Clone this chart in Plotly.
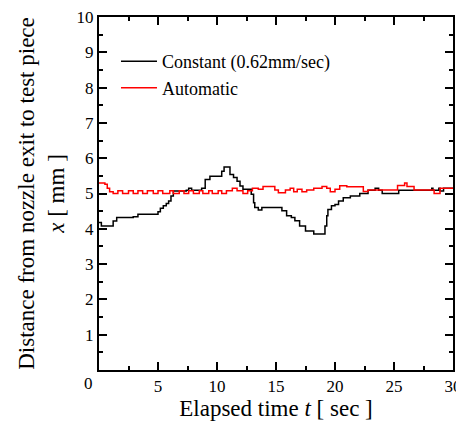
import plotly.graph_objects as go

# Constant feed (0.62 mm/sec) - step points (time s, distance mm)
t_const = [0.0, 0.2, 1.1, 1.2, 1.5, 2.9, 3.3, 4.75, 5.0, 5.2, 5.45, 5.7, 5.9, 6.1, 6.3,
           7.4, 7.6, 7.85, 8.7, 9.0, 9.4, 10.0, 10.4, 10.6, 10.96, 11.1, 11.4, 11.7,
           11.95, 12.2, 12.65, 12.9, 13.1, 13.2, 13.5, 13.8, 15.3, 15.5, 15.9, 16.3,
           16.6, 17.0, 17.5, 18.2, 19.05, 19.15, 19.3, 19.4, 19.7, 20.0, 20.3, 20.7,
           21.3, 22.1, 22.8, 23.4, 23.7, 24.0, 25.4, 28.2, 28.3, 28.8, 28.9, 29.2, 30.0]
x_const = [4.18, 4.08, 4.08, 4.22, 4.32, 4.34, 4.41, 4.41, 4.48, 4.58, 4.65, 4.72, 4.79, 4.93, 5.07,
           5.09, 5.15, 5.09, 5.15, 5.4, 5.49, 5.49, 5.63, 5.75, 5.75, 5.54, 5.45, 5.35,
           5.21, 5.12, 5.12, 4.98, 4.74, 4.6, 4.53, 4.6, 4.6, 4.51, 4.37, 4.32,
           4.23, 4.08, 3.94, 3.85, 3.85, 4.08, 4.37, 4.55, 4.65, 4.69, 4.79, 4.88,
           4.93, 5.0, 5.09, 5.15, 5.09, 5.0, 5.09, 5.15, 5.09, 5.15, 5.07, 5.15, 5.15]

# Automatic control - step points
t_auto = [0.0, 0.5, 0.7, 0.9, 1.2, 1.6, 2.0, 2.5, 2.9, 3.3, 3.7, 4.1, 4.6, 5.0, 5.4,
          6.0, 6.3, 6.8, 7.2, 7.6, 8.0, 8.5, 8.8, 9.3, 9.6, 10.1, 10.4, 10.8, 11.3,
          11.7, 12.2, 12.6, 13.0, 13.5, 13.9, 14.9, 15.2, 15.8, 16.2, 16.5, 16.8,
          17.2, 17.6, 18.2, 18.9, 19.3, 19.6, 20.0, 20.4, 21.0, 22.4, 22.8, 23.5,
          25.3, 25.9, 26.1, 26.7, 27.5, 28.4, 28.9, 30.0]
x_auto = [5.30, 5.26, 5.15, 5.05, 5.0, 5.08, 5.0, 5.08, 5.0, 5.08, 5.0, 5.08, 5.0, 5.08, 5.0,
          5.08, 5.0, 5.08, 5.0, 5.08, 5.0, 5.08, 5.0, 5.08, 5.0, 5.08, 5.0, 5.08, 5.15,
          5.08, 5.0, 5.08, 5.15, 5.12, 5.2, 5.1, 5.02, 5.1, 5.15, 5.05, 5.12,
          5.05, 5.1, 5.15, 5.2, 5.15, 5.05, 5.12, 5.22, 5.19, 5.06, 5.1, 5.1,
          5.23, 5.3, 5.2, 5.1, 5.1, 5.0, 5.15, 5.15]

x_ticks = [5, 10, 15, 20, 25, 30]
y_ticks = [1, 2, 3, 4, 5, 6, 7, 8, 9, 10]

FONT = "Liberation Serif"

fig = go.Figure()
fig.add_trace(go.Scatter(x=t_const, y=x_const, mode="lines", line_shape="hv",
                         line=dict(color="black", width=1.5),
                         name="Constant (0.62mm/sec)"))
fig.add_trace(go.Scatter(x=t_auto, y=x_auto, mode="lines", line_shape="hv",
                         line=dict(color="#ff0000", width=1.5),
                         name="Automatic"))

axis_common = dict(showline=True, linecolor="black", linewidth=2, mirror="ticks",
                   ticks="inside", ticklen=8, tickwidth=1.5, tickcolor="black",
                   showgrid=False, zeroline=False, automargin=False,
                   ticklabeloverflow="allow",
                   tickfont=dict(family=FONT, size=17, color="black"))

fig.update_xaxes(range=[0, 30], tickvals=x_ticks,
                 minor=dict(dtick=2.5, ticklen=4, tickwidth=1.5, tickcolor="black", ticks="inside"),
                 title=dict(text="Elapsed time <i>t</i> [ sec ]", font=dict(family=FONT, size=23, color="black"),
                            standoff=4),
                 **axis_common)
fig.update_yaxes(range=[0, 10], tickvals=y_ticks,
                 minor=dict(dtick=0.5, ticklen=4, tickwidth=1.5, tickcolor="black", ticks="inside"),
                 title=dict(text="Distance from nozzle exit to test piece<br><i>x</i> [ mm ]",
                            font=dict(family=FONT, size=23, color="black"), standoff=6),
                 **axis_common)

fig.add_annotation(x=0, y=0, xref="x", yref="y", text="0", showarrow=False,
                   xanchor="right", yanchor="top", xshift=-4, yshift=-2,
                   font=dict(family=FONT, size=17, color="black"))

# page body has an 8px margin: size/position the figure so the plot area lands
# where the reference has it (x: 99..453, y: ~15..370)
fig.update_layout(template="none",
                  width=456, height=415,
                  font=dict(family=FONT, size=17, color="black"),
                  margin=dict(l=91, r=11, t=9, b=53, autoexpand=False),
                  paper_bgcolor="white", plot_bgcolor="white",
                  legend=dict(x=0.048, y=0.926, xanchor="left", yanchor="top",
                              bgcolor="rgba(0,0,0,0)",
                              font=dict(family=FONT, size=18, color="black"),
                              tracegroupgap=0, itemwidth=36),
                  showlegend=True)

fig.write_html("out.html")
